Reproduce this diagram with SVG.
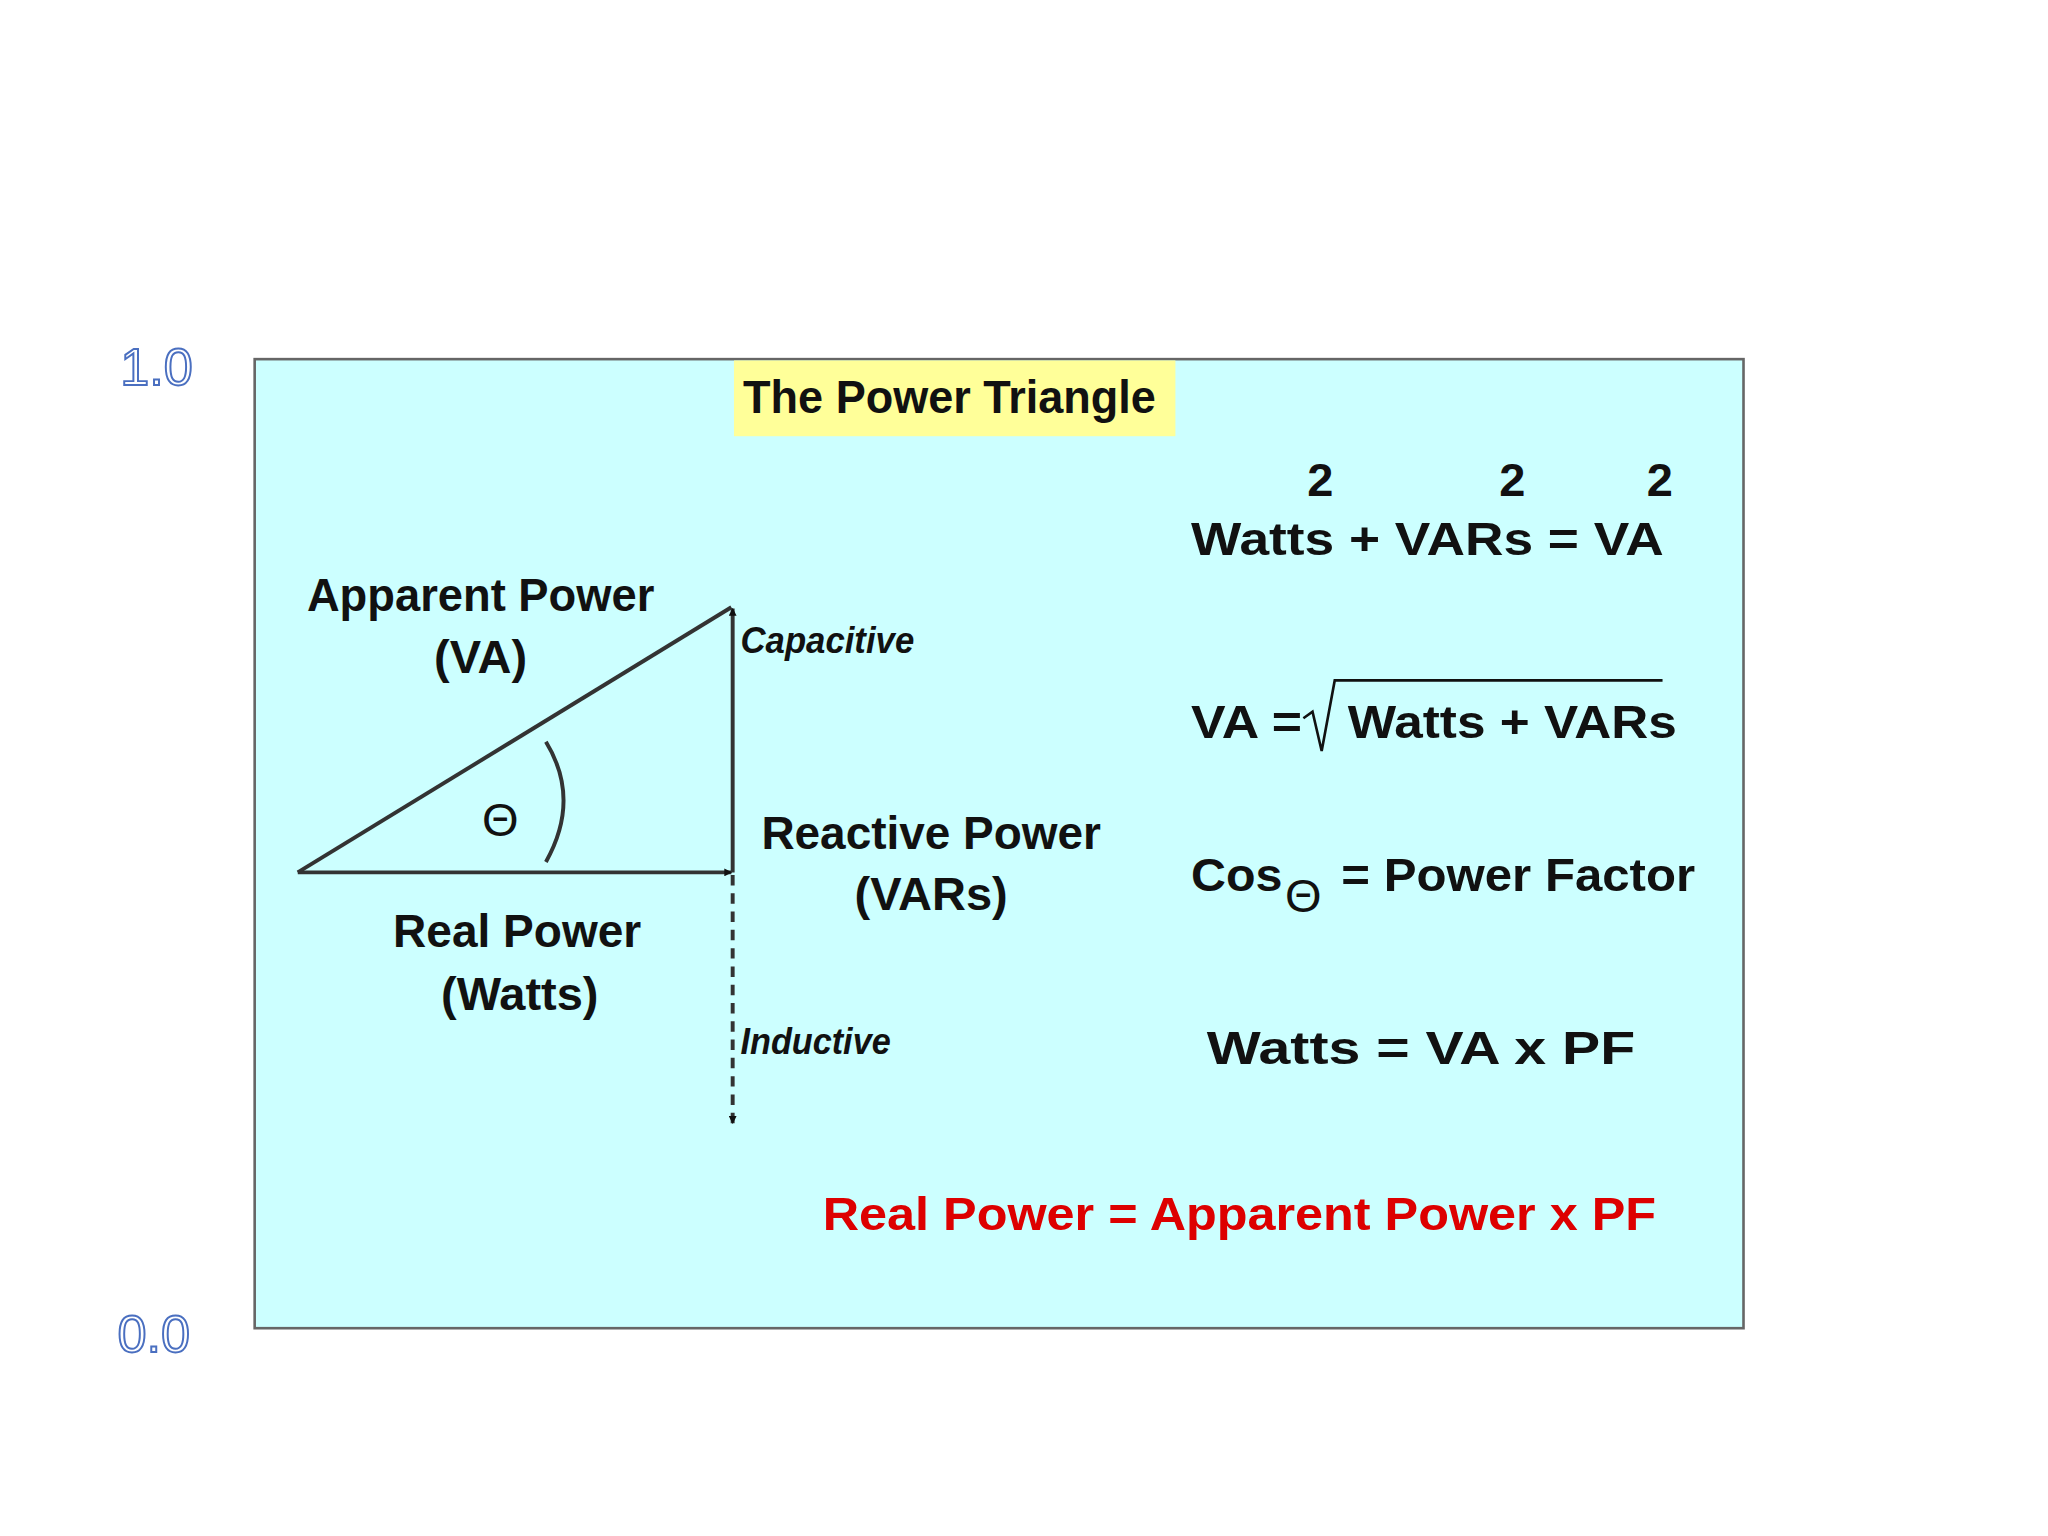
<svg xmlns="http://www.w3.org/2000/svg" width="2048" height="1536" viewBox="0 0 2048 1536">
<style>
.t{font-family:"Liberation Sans",Arial,sans-serif;font-weight:bold;font-size:36px;fill:#111}
.i{font-family:"Liberation Sans",Arial,sans-serif;font-weight:bold;font-style:italic;font-size:28px;fill:#111}
.ax{font-family:"Liberation Sans",Arial,sans-serif;font-size:40px;fill:#fff;stroke:#4a6fc0;stroke-width:1.5}
.r{fill:#dd0000}
.ln{stroke:#333;stroke-width:3;fill:none}
</style>
<defs>
<marker id="ah" viewBox="0 0 10 10" refX="9" refY="5" markerWidth="6" markerHeight="6" orient="auto" markerUnits="userSpaceOnUse">
<path d="M0,0L10,5L0,10z" fill="#111"/>
</marker>
</defs>
<rect width="2048" height="1536" fill="#fff"/>
<g transform="scale(1.306)">
<g id="axis">
<text class="ax" x="92" y="295">1.0</text>
<text class="ax" x="90" y="1035">0.0</text>
</g>
<g id="panel">
<rect x="195" y="275" width="1140" height="742" fill="#ccffff" stroke="#666" stroke-width="2"/>
<rect x="562" y="276" width="338" height="58" fill="#ffff99"/>
<text class="t" x="727" y="316" text-anchor="middle" textLength="316" lengthAdjust="spacingAndGlyphs">The Power Triangle</text>
</g>
<g id="connectors">
<line class="ln" x1="228" y1="668" x2="560" y2="668" marker-end="url(#ah)" style="marker-end:url(#ah)"/>
<line class="ln" x1="228" y1="668" x2="560" y2="465"/>
<line class="ln" x1="561" y1="668" x2="561" y2="466" marker-end="url(#ah)"/>
<line class="ln" x1="561" y1="670" x2="561" y2="860" stroke-dasharray="8,6" marker-end="url(#ah)"/>
<path class="ln" d="M418,568 Q445,612 418,660" stroke-width="2"/>
</g>
<g id="labels">
<text class="t" x="383" y="640" text-anchor="middle" style="font-weight:normal">Θ</text>
<text class="t" x="368" y="468" text-anchor="middle" textLength="266" lengthAdjust="spacingAndGlyphs">Apparent Power</text>
<text class="t" x="368" y="515" text-anchor="middle">(VA)</text>
<text class="i" x="567" y="500" textLength="133" lengthAdjust="spacingAndGlyphs">Capacitive</text>
<text class="t" x="713" y="650" text-anchor="middle" textLength="260" lengthAdjust="spacingAndGlyphs">Reactive Power</text>
<text class="t" x="713" y="697" text-anchor="middle">(VARs)</text>
<text class="t" x="396" y="725" text-anchor="middle" textLength="190" lengthAdjust="spacingAndGlyphs">Real Power</text>
<text class="t" x="398" y="773" text-anchor="middle">(Watts)</text>
<text class="i" x="567" y="807" textLength="115" lengthAdjust="spacingAndGlyphs">Inductive</text>
</g>
<g id="formulas">
<text class="t" x="1011" y="380" text-anchor="middle">2</text>
<text class="t" x="1158" y="380" text-anchor="middle">2</text>
<text class="t" x="1271" y="380" text-anchor="middle">2</text>
<text class="t" x="912" y="425" textLength="362" lengthAdjust="spacingAndGlyphs">Watts + VARs = VA</text>
<text class="t" x="912" y="565" textLength="85" lengthAdjust="spacingAndGlyphs">VA =</text>
<path d="M998,550 L1005,545 L1012,575 L1022,521 L1273,521" fill="none" stroke="#111" stroke-width="2"/>
<text class="t" x="1032" y="565" textLength="252" lengthAdjust="spacingAndGlyphs">Watts + VARs</text>
<text class="t" x="912" y="682" textLength="70" lengthAdjust="spacingAndGlyphs">Cos</text>
<text class="t" x="998" y="698" text-anchor="middle" style="font-weight:normal">Θ</text>
<text class="t" x="1027" y="682" textLength="271" lengthAdjust="spacingAndGlyphs">=  Power Factor</text>
<text class="t" x="924" y="815" textLength="328" lengthAdjust="spacingAndGlyphs">Watts  =  VA  x  PF</text>
<text class="t r" x="630" y="942" textLength="638" lengthAdjust="spacingAndGlyphs">Real Power  =  Apparent Power  x  PF</text>
</g>
</g>
</svg>
